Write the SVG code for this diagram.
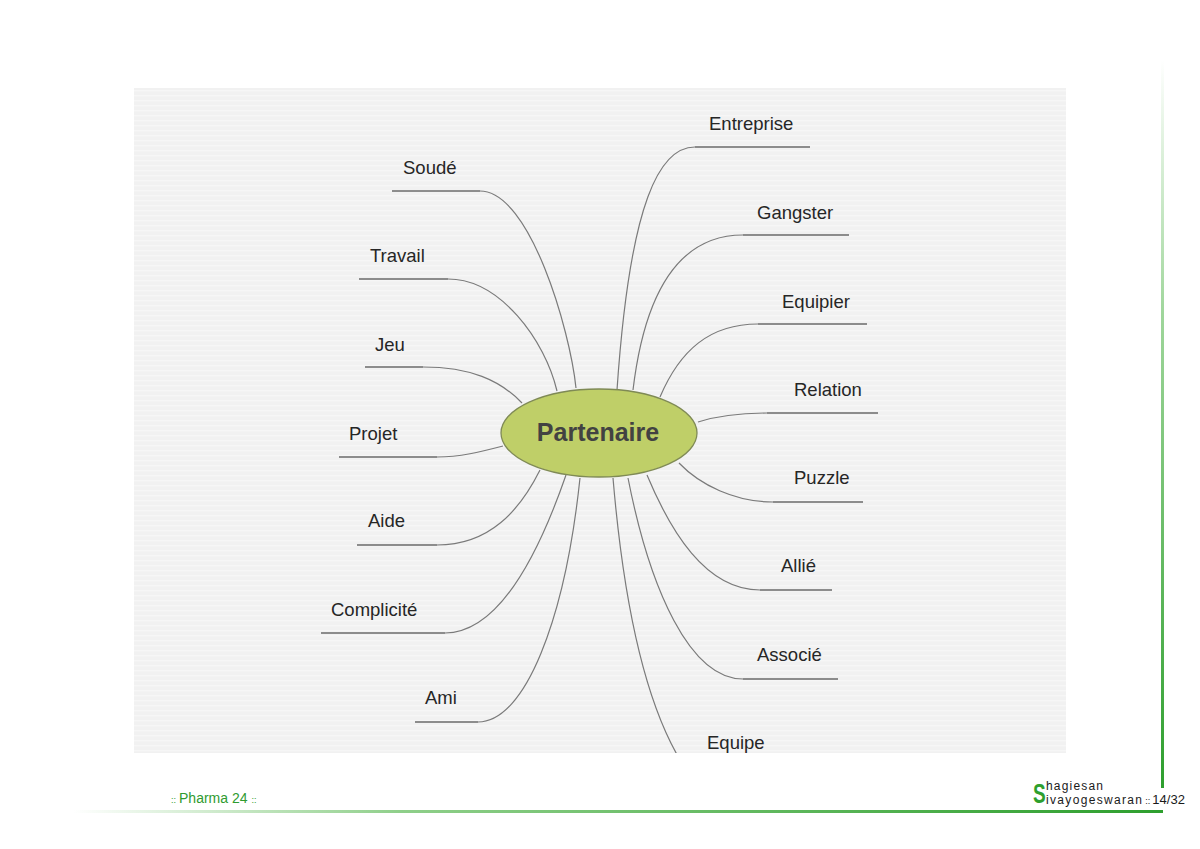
<svg xmlns="http://www.w3.org/2000/svg" width="1200" height="849" viewBox="0 0 1200 849">
<defs>
<style>
.lbl{font-family:"Liberation Sans",Arial,sans-serif;font-size:18.5px;fill:#262626}
.con{fill:none;stroke:#7a7a7a;stroke-width:1.2}
.ul{fill:none;stroke:#6a6a6a;stroke-width:1.5}
.ft{font-family:"Liberation Sans",Arial,sans-serif}
</style>
<pattern id="stripes" width="8" height="5" patternUnits="userSpaceOnUse">
<rect width="8" height="5" fill="#f1f1f1"/>
<rect width="8" height="1.5" fill="#f6f6f6"/>
</pattern>
<linearGradient id="gv" x1="0" y1="0" x2="0" y2="1">
<stop offset="0" stop-color="#ffffff"/>
<stop offset="0.35" stop-color="#9fd69b"/>
<stop offset="1" stop-color="#2e9f2e"/>
</linearGradient>
<linearGradient id="gh" x1="0" y1="0" x2="1" y2="0">
<stop offset="0" stop-color="#ffffff"/>
<stop offset="0.3" stop-color="#8fcf8a"/>
<stop offset="1" stop-color="#2e9f2e"/>
</linearGradient>
<clipPath id="panelClip"><rect x="134" y="88" width="932" height="665"/></clipPath>
</defs>
<rect width="1200" height="849" fill="#ffffff"/>
<rect x="134" y="88" width="932" height="665" fill="url(#stripes)"/>

<g clip-path="url(#panelClip)">
<g id="connectors">
<path class="con" d="M576,388 C570,330 530,191 480,191"/>
<path class="ul" d="M392,191 H480"/>
<path class="con" d="M557,391 C545,340 500,279 448,279"/>
<path class="ul" d="M359,279 H448"/>
<path class="con" d="M522,403 C500,380 470,367 423,367"/>
<path class="ul" d="M365,367 H423"/>
<path class="con" d="M503,446 C480,452 460,457 437,457"/>
<path class="ul" d="M339,457 H437"/>
<path class="con" d="M540,470 C520,510 490,545 437,545"/>
<path class="ul" d="M357,545 H437"/>
<path class="con" d="M566,475 C540,550 500,633 445,633"/>
<path class="ul" d="M321,633 H445"/>
<path class="con" d="M580,478 C565,620 525,722 478,722"/>
<path class="ul" d="M415,722 H478"/>
<path class="con" d="M617,390 C630,200 660,147 695,147"/>
<path class="ul" d="M695,147 H810"/>
<path class="con" d="M633,390 C645,290 680,235 743,235"/>
<path class="ul" d="M743,235 H849"/>
<path class="con" d="M660,397 C680,350 710,324 758,324"/>
<path class="ul" d="M758,324 H867"/>
<path class="con" d="M698,422 C720,415 740,413 767,413"/>
<path class="ul" d="M767,413 H878"/>
<path class="con" d="M679,463 C700,485 735,502 773,502"/>
<path class="ul" d="M773,502 H863"/>
<path class="con" d="M647,475 C670,530 705,590 760,590"/>
<path class="ul" d="M760,590 H832"/>
<path class="con" d="M628,478 C650,590 690,679 743,679"/>
<path class="ul" d="M743,679 H838"/>
<path class="con" d="M613,478 C625,620 650,720 690,775"/>
</g>

<g id="center"><ellipse cx="599" cy="433" rx="98" ry="44" fill="#bfcf68" stroke="#7f8a55" stroke-width="1.3"/>
<text x="598" y="441" text-anchor="middle" font-family="Liberation Sans,Arial,sans-serif" font-weight="bold" font-size="25" fill="#424242">Partenaire</text></g>

<g id="n-soude"><text class="lbl" x="403" y="174">Soudé</text></g>
<g id="n-travail"><text class="lbl" x="370" y="262">Travail</text></g>
<g id="n-jeu"><text class="lbl" x="375" y="351">Jeu</text></g>
<g id="n-projet"><text class="lbl" x="349" y="440">Projet</text></g>
<g id="n-aide"><text class="lbl" x="368" y="527">Aide</text></g>
<g id="n-complicite"><text class="lbl" x="331" y="616">Complicité</text></g>
<g id="n-ami"><text class="lbl" x="425" y="704">Ami</text></g>
<g id="n-entreprise"><text class="lbl" x="709" y="130">Entreprise</text></g>
<g id="n-gangster"><text class="lbl" x="757" y="219">Gangster</text></g>
<g id="n-equipier"><text class="lbl" x="782" y="308">Equipier</text></g>
<g id="n-relation"><text class="lbl" x="794" y="396">Relation</text></g>
<g id="n-puzzle"><text class="lbl" x="794" y="484">Puzzle</text></g>
<g id="n-allie"><text class="lbl" x="781" y="572">Allié</text></g>
<g id="n-associe"><text class="lbl" x="757" y="661">Associé</text></g>
<g id="n-equipe"><text class="lbl" x="707" y="749">Equipe</text></g>
</g>

<g id="frame">
<rect x="1161" y="60" width="3" height="728" fill="url(#gv)"/>
<rect x="73" y="810" width="1090" height="3" fill="url(#gh)"/>
</g>

<g id="footer" class="ft">
<text x="171" y="803" fill="#2f9b2f"><tspan font-size="9">::</tspan><tspan font-size="14" dx="3">Pharma 24</tspan><tspan font-size="9" dx="4">::</tspan></text>
<text x="1033" y="803" transform="translate(1033,0) scale(0.68,1) translate(-1033,0)" font-size="28" font-weight="bold" fill="#2e9f2e">S</text>
<text x="1046" y="790" font-size="12" fill="#1a1a1a" textLength="57">hagiesan</text>
<text x="1046" y="803.5" font-size="12" fill="#1a1a1a"><tspan textLength="96">ivayogeswaran</tspan><tspan font-size="9" dx="2">::</tspan><tspan dx="2" font-size="13">14/32</tspan></text>
</g>
</svg>
